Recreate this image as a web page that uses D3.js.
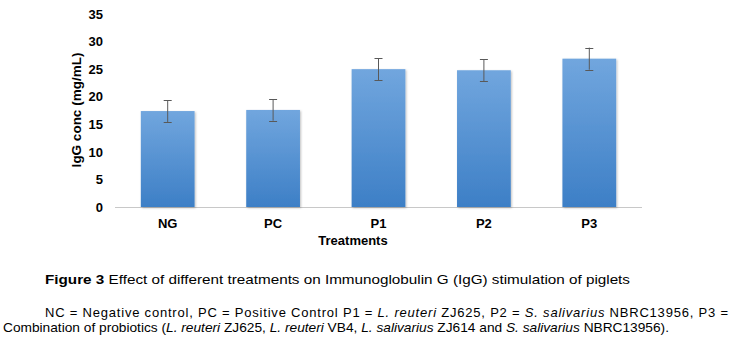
<!DOCTYPE html>
<html>
<head>
<meta charset="utf-8">
<script src="https://cdn.jsdelivr.net/npm/d3@7"></script>
<style>
  body { margin: 0; background: #fff; }
  svg { display: block; font-family: "Liberation Sans", Arial, sans-serif; }
</style>
</head>
<body>
<svg id="chart" width="745" height="342"></svg>
<script>
// data
const treatments = ["NG", "PC", "P1", "P2", "P3"];
const igg = [17.4, 17.6, 25.0, 24.8, 26.9];
const errors = [2.0, 1.95, 2.0, 2.0, 2.0];
const yTicks = [0, 5, 10, 15, 20, 25, 30, 35];

const svg = d3.select("#chart");

const x = d3.scaleBand()
    .domain(treatments)
    .range([115, 642])
    .paddingInner(0.49)
    .paddingOuter(0.245);

const y = d3.scaleLinear()
    .domain([0, 35])
    .range([207, 14]);

// bar gradient
const defs = svg.append("defs");
const grad = defs.append("linearGradient")
    .attr("id", "barGrad")
    .attr("x1", 0).attr("y1", 0).attr("x2", 0).attr("y2", 1);
grad.append("stop").attr("offset", "0%").attr("stop-color", "#71a6de");
grad.append("stop").attr("offset", "100%").attr("stop-color", "#3d7fc6");

const shadow = defs.append("filter").attr("id", "shadow")
    .attr("x", "-20%").attr("y", "-10%").attr("width", "140%").attr("height", "120%");
shadow.append("feDropShadow")
    .attr("dx", 1).attr("dy", 1).attr("stdDeviation", 1)
    .attr("flood-color", "#000").attr("flood-opacity", 0.25);

// y axis (labels only, no line)
const yAxis = svg.append("g")
    .attr("transform", "translate(103,0)")
    .call(d3.axisLeft(y).tickValues(yTicks).tickSize(0).tickPadding(0));
yAxis.select(".domain").remove();
yAxis.selectAll("text")
    .attr("font-size", 13)
    .attr("font-weight", "bold")
    .attr("fill", "#000");

// baseline
svg.append("line")
    .attr("x1", 115).attr("x2", 642)
    .attr("y1", y(0) + 0.5).attr("y2", y(0) + 0.5)
    .attr("stroke", "#c8c8c8");

// bars
svg.selectAll("rect.bar")
    .data(treatments)
    .join("rect")
    .attr("class", "bar")
    .attr("x", d => x(d))
    .attr("y", (d, i) => y(igg[i]))
    .attr("width", x.bandwidth())
    .attr("height", (d, i) => y(0) - y(igg[i]))
    .attr("fill", "url(#barGrad)")
    .attr("filter", "url(#shadow)");

// error bars
const eb = svg.selectAll("g.err")
    .data(treatments)
    .join("g")
    .attr("class", "err")
    .attr("stroke", "#595959")
    .attr("stroke-width", 1);
eb.append("line")
    .attr("x1", d => x(d) + x.bandwidth() / 2)
    .attr("x2", d => x(d) + x.bandwidth() / 2)
    .attr("y1", (d, i) => y(igg[i] + errors[i]))
    .attr("y2", (d, i) => y(igg[i] - errors[i]));
[1, -1].forEach(s => {
    eb.append("line")
        .attr("x1", d => x(d) + x.bandwidth() / 2 - 4)
        .attr("x2", d => x(d) + x.bandwidth() / 2 + 4)
        .attr("y1", (d, i) => Math.round(y(igg[i] + s * errors[i])) + 0.5)
        .attr("y2", (d, i) => Math.round(y(igg[i] + s * errors[i])) + 0.5);
});

// x labels
const xAxis = svg.append("g")
    .attr("transform", `translate(0,${y(0)})`)
    .call(d3.axisBottom(x).tickSize(0).tickPadding(12));
xAxis.select(".domain").remove();
xAxis.selectAll("text")
    .attr("font-size", 13)
    .attr("font-weight", "bold")
    .attr("fill", "#000");

// axis titles
svg.append("text")
    .attr("x", 353).attr("y", 244.5)
    .attr("text-anchor", "middle")
    .attr("font-size", 13)
    .attr("font-weight", "bold")
    .text("Treatments");

svg.append("text")
    .attr("transform", "translate(81,110) rotate(-90)")
    .attr("text-anchor", "middle")
    .attr("font-size", 13.5)
    .attr("font-weight", "bold")
    .text("IgG conc (mg/mL)");

// caption
const cap = svg.append("text")
    .attr("x", 45).attr("y", 284)
    .attr("font-size", 13.5)
    .attr("textLength", 585)
    .attr("lengthAdjust", "spacingAndGlyphs");
cap.append("tspan").attr("font-weight", "bold").text("Figure 3");
cap.append("tspan").text(" Effect of different treatments on Immunoglobulin G (IgG) stimulation of piglets");

// note, line 1 justified
const note1 = svg.append("text")
    .attr("x", 45).attr("y", 317)
    .attr("font-size", 13)
    .attr("textLength", 683)
    .attr("lengthAdjust", "spacing");
[["NC = Negative control, PC = Positive Control P1 = ", false],
 ["L. reuteri", true], [" ZJ625, P2 = ", false],
 ["S. salivarius", true], [" NBRC13956, P3 =", false]]
  .forEach(([t, it]) => note1.append("tspan").attr("font-style", it ? "italic" : null).text(t));

const note2 = svg.append("text")
    .attr("x", 3).attr("y", 332)
    .attr("font-size", 13)
    .attr("textLength", 666)
    .attr("lengthAdjust", "spacingAndGlyphs");
[["Combination of probiotics (", false], ["L. reuteri", true], [" ZJ625, ", false],
 ["L. reuteri", true], [" VB4, ", false], ["L. salivarius", true], [" ZJ614 and ", false],
 ["S. salivarius", true], [" NBRC13956).", false]]
  .forEach(([t, it]) => note2.append("tspan").attr("font-style", it ? "italic" : null).text(t));
</script>
</body>
</html>
